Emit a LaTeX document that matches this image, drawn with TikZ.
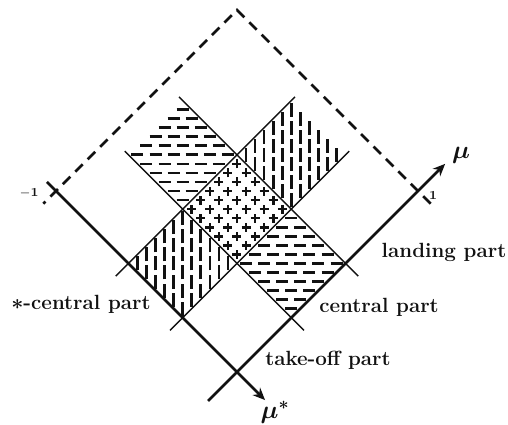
\documentclass[tikz,border=0pt]{standalone}
\usepackage{amsmath}
\usepackage{xcolor}
\usepackage{tikz}
\usetikzlibrary{arrows.meta}
\definecolor{inkblack}{HTML}{111111}

\tikzset{
  axisline/.style={inkblack, line width=1.6pt, -{Stealth[length=7pt, width=6pt]}},
  bandline/.style={inkblack, line width=0.8pt},
  boundary/.style={inkblack, line width=1.6pt, dash pattern=on 6pt off 4pt},
  hatchmark/.style={inkblack, line width=1.5pt},
  partlabel/.style={inkblack, font=\fontsize{11.7}{14}\selectfont\bfseries},
  ticklabel/.style={inkblack, font=\fontsize{7}{8}\selectfont\bfseries}
}

\begin{document}
\begin{tikzpicture}[x={(3.62cm,3.62cm)}, y={(-3.62cm,3.62cm)}]
    \useasboundingbox (-4.74cm,-1.04cm) rectangle (5.42cm,7.44cm);

    \foreach \j in {0,...,32} {
      \foreach \i in {-7,...,7} {
        \pgfmathsetmacro\hx{0.362*\i+0.181*mod(\j+1,2)}
        \pgfmathsetmacro\hy{0.181*\j}
        \pgfmathsetmacro\hu{(\hx+\hy)/7.24}
        \pgfmathsetmacro\hv{(\hy-\hx)/7.24}
        \pgfmathtruncatemacro\inband{and(and(\hu>0.31,\hu<0.59),or(and(\hv>0.01,\hv<0.29),and(\hv>0.61,\hv<0.89)))}
        \pgfmathtruncatemacro\incross{and(and(\hu>0.31,\hu<0.59),and(\hv>0.31,\hv<0.59))}
        \ifnum\inband=1
          \draw[hatchmark] (\hx cm-0.12cm,\hy cm) -- (\hx cm+0.12cm,\hy cm);
        \fi
        \ifnum\incross=1
          \draw[hatchmark] (\hx cm-0.09cm,\hy cm) -- (\hx cm+0.09cm,\hy cm);
          \draw[hatchmark] (\hx cm,\hy cm-0.09cm) -- (\hx cm,\hy cm+0.09cm);
        \fi
      }
    }

    \foreach \i in {-13,...,13} {
      \foreach \j in {0,...,16} {
        \pgfmathsetmacro\vx{0.181*\i}
        \pgfmathsetmacro\vy{0.362*\j+0.181*mod(\i+15,2)}
        \pgfmathsetmacro\vu{(\vx+\vy)/7.24}
        \pgfmathsetmacro\vv{(\vy-\vx)/7.24}
        \pgfmathtruncatemacro\inband{and(and(\vv>0.31,\vv<0.59),or(and(\vu>0.01,\vu<0.29),and(\vu>0.61,\vu<0.89)))}
        \ifnum\inband=1
          \draw[hatchmark] (\vx cm,\vy cm-0.14cm) -- (\vx cm,\vy cm+0.14cm);
        \fi
      }
    }

    \foreach \p in {0.3,0.6} {
      \draw[bandline] (\p,-0.07) -- (\p,0.92);
      \draw[bandline] (-0.07,\p) -- (0.92,\p);
    }

    \draw[boundary] (1,-0.07) -- (1,1) -- (-0.07,1);

    \coordinate (origin) at (0,0);
    \coordinate (mutail) at (-0.16,0);
    \coordinate (muhead) at (1.15,0);
    \coordinate (startail) at (0,1.05);
    \coordinate (starhead) at (0,-0.155);
    \draw[axisline] (mutail) -- (muhead);
    \draw[axisline] (startail) -- (starhead);

    \node[inkblack] (mulabel) at ([shift={(0.32cm,0.18cm)}]muhead) {\Large$\boldsymbol{\mu}$};
    \node[inkblack] (starlabel) at ([shift={(0.2cm,-0.24cm)}]starhead) {\Large$\boldsymbol{\mu^{*}}$};
    \node[ticklabel] (minusone) at (-4.16cm,3.58cm) {$-$1};
    \node[ticklabel] (plusone) at (3.92cm,3.54cm) {1};

    \node[partlabel] (landing) at (4.14cm,2.40cm) {landing part};
    \node[partlabel] (central) at (2.84cm,1.30cm) {central part};
    \node[partlabel] (takeoff) at (1.82cm,0.24cm) {take-off part};
    \node[partlabel] (starcentral) at (-3.12cm,1.36cm) {$\boldsymbol{*}$-central part};
\end{tikzpicture}
\end{document}
